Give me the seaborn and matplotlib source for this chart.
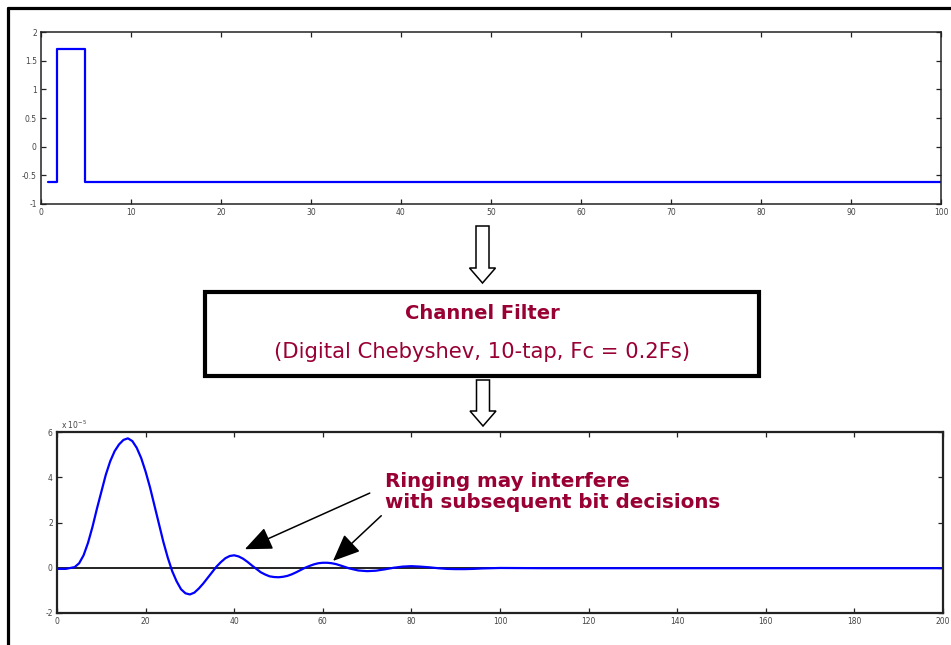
import numpy as np
import pandas as pd
import matplotlib
matplotlib.use("Agg")
import matplotlib.pyplot as plt
import seaborn as sns
from matplotlib.patches import Polygon, Rectangle
from matplotlib.lines import Line2D

# ---------------- data ----------------
pulse_x = [0.8, 1.8, 4.9, 100]
pulse_y = [-0.62, 1.7, -0.62, -0.62]

resp_x = [0, 2, 4, 5, 6, 7, 8, 9, 10, 11, 12, 13, 14, 15, 16, 17, 18, 19, 20,
          21, 22, 23, 24, 25, 26, 27, 28, 29, 30, 31, 32, 33, 34, 35, 36, 37, 38, 39, 40,
          41, 42, 43, 44, 45, 46, 47, 48, 49, 50, 51, 52, 53, 54, 55, 56, 57, 58, 59, 60,
          61, 62, 63, 64, 66, 68, 70, 72, 74, 76, 78,
          80, 82, 84, 86, 88, 90, 92, 94, 96, 98, 100,
          110, 120, 130, 140, 150, 160, 170, 180, 190, 200]
resp_y = [-0.05, -0.05, 0.03, 0.2, 0.55, 1.1, 1.8, 2.6, 3.35, 4.1, 4.7, 5.15, 5.45, 5.65, 5.72, 5.6, 5.3, 4.85, 4.25,
          3.55, 2.75, 1.95, 1.15, 0.45, -0.15, -0.6, -0.95, -1.13, -1.18, -1.1, -0.92, -0.7, -0.45, -0.2, 0.05, 0.25, 0.42, 0.52, 0.55,
          0.5, 0.4, 0.26, 0.1, -0.05, -0.2, -0.3, -0.38, -0.41, -0.42, -0.4, -0.36, -0.29, -0.2, -0.1, 0.0, 0.08, 0.15, 0.2, 0.22,
          0.22, 0.2, 0.16, 0.1, -0.03, -0.12, -0.15, -0.13, -0.07, 0.0, 0.05,
          0.07, 0.05, 0.02, -0.02, -0.05, -0.06, -0.06, -0.05, -0.03, -0.02, -0.01,
          -0.02, -0.02, -0.02, -0.02, -0.02, -0.02, -0.02, -0.02, -0.02, -0.02]
resp_scale = 1e-5

top_xticks = list(range(0, 101, 10))
top_yticks = [-1, -0.5, 0, 0.5, 1, 1.5, 2]
top_yticklabels = ["-1", "-0.5", "0", "0.5", "1", "1.5", "2"]
bot_xticks = list(range(0, 201, 20))
bot_yticks = [-2, 0, 2, 4, 6]

box_title = "Channel Filter"
box_sub = "(Digital Chebyshev, 10-tap, Fc = 0.2Fs)"
note = "Ringing may interfere\nwith subsequent bit decisions"

# ---------------- figure ----------------
sns.set_theme(style="white")
plt.rcParams['font.family'] = ['DejaVu Sans']

W, H = 951, 645
fig = plt.figure(figsize=(W / 100, H / 100), dpi=100)
fig.patch.set_facecolor("white")

def fx(px):
    return px / W

def fy(py):
    return 1 - py / H

crimson = "#990033"
blue = "#0000FF"
tick_color = "#444444"

def style_axes(ax, lw):
    for s in ax.spines.values():
        s.set_visible(True)
        s.set_color("#222222")
        s.set_linewidth(lw)
    ax.tick_params(direction="in", length=3.5, width=0.9, colors="#222222",
                   labelsize=5.5, labelcolor=tick_color, top=True, right=True,
                   bottom=True, left=True, pad=3)
    ax.set_xlabel("")
    ax.set_ylabel("")
    ax.grid(False)

# top axes
ax1 = fig.add_axes([fx(41), fy(204), fx(941) - fx(41), fy(32) - fy(204)])
df1 = pd.DataFrame({"x": pulse_x, "y": pulse_y})
sns.lineplot(data=df1, x="x", y="y", ax=ax1, color=blue, linewidth=1.6,
             drawstyle="steps-post", sort=False)
ax1.set_xlim(0, 100)
ax1.set_ylim(-1, 2)
ax1.set_xticks(top_xticks)
ax1.set_yticks(top_yticks)
ax1.set_yticklabels(top_yticklabels)
style_axes(ax1, 1.1)

# bottom axes
ax2 = fig.add_axes([fx(57), fy(613), fx(943) - fx(57), fy(432) - fy(613)])
df2 = pd.DataFrame({"x": resp_x, "y": np.array(resp_y) * resp_scale})
ax2.axhline(0, color="#111111", linewidth=1.3, zorder=1)
sns.lineplot(data=df2, x="x", y="y", ax=ax2, color=blue, linewidth=1.6, zorder=2)
ax2.set_xlim(0, 200)
ax2.set_ylim(-2e-5, 6e-5)
ax2.set_xticks(bot_xticks)
ax2.set_yticks([v * resp_scale for v in bot_yticks])
ax2.set_yticklabels([str(v) for v in bot_yticks])
style_axes(ax2, 1.6)
ax2.text(0.004, 1.005, r"x 10$^{-5}$", transform=ax2.transAxes, fontsize=5.5,
         color=tick_color, ha="left", va="bottom")

# arrows in bottom axes
arrow_kw = dict(arrowstyle="-|>,head_length=1.4,head_width=0.6", color="black",
                lw=1.1, shrinkA=0, shrinkB=0)
ax2.annotate("", xy=(42.4, 0.82e-5), xytext=(70.6, 3.3e-5), arrowprops=arrow_kw)
ax2.annotate("", xy=(62.3, 0.3e-5), xytext=(73.2, 2.3e-5), arrowprops=arrow_kw)

# annotation text
fig.text(fx(385), fy(508), note, fontsize=14.3, fontweight="bold", color=crimson,
         ha="left", va="baseline", linespacing=1.15)

# outer frame lines
fig.add_artist(Line2D([fx(8), fx(951)], [fy(8), fy(8)], color="black", lw=2.3,
                      transform=fig.transFigure))
fig.add_artist(Line2D([fx(8), fx(8)], [fy(8), fy(645)], color="black", lw=2.3,
                      transform=fig.transFigure))

# filter box
fig.add_artist(Rectangle((fx(205), fy(376)), fx(759) - fx(205), fy(292) - fy(376),
                         transform=fig.transFigure, facecolor="white",
                         edgecolor="black", lw=3.0))
fig.text(fx(482), fy(319), box_title, fontsize=14, fontweight="bold", color=crimson,
         ha="center", va="baseline")
fig.text(fx(482), fy(358), box_sub, fontsize=15.2, color=crimson,
         ha="center", va="baseline")

# hollow block arrows
def block_arrow(cx, top, head_start, tip, shaft_w=13, head_w=26):
    pts = [(cx - shaft_w / 2, top), (cx + shaft_w / 2, top),
           (cx + shaft_w / 2, head_start), (cx + head_w / 2, head_start),
           (cx, tip), (cx - head_w / 2, head_start), (cx - shaft_w / 2, head_start)]
    pts = [(fx(x), fy(y)) for x, y in pts]
    fig.add_artist(Polygon(pts, closed=True, transform=fig.transFigure,
                           facecolor="white", edgecolor="black", lw=1.1))

block_arrow(482.5, 226, 268, 283)
block_arrow(483, 380, 411, 426)

fig.savefig("out.png", dpi=100, facecolor="white")
